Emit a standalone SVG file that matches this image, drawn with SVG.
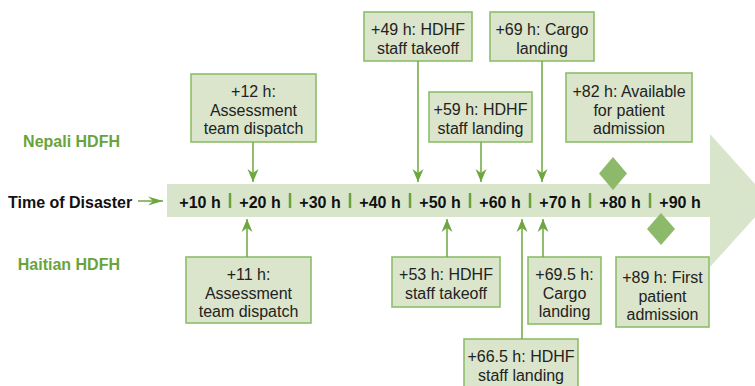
<svg xmlns="http://www.w3.org/2000/svg" width="755" height="386" viewBox="0 0 755 386">
<style>
.box{fill:#dae5cb;stroke:#8dbd69;stroke-width:1.6}
.bt{font-family:"Liberation Sans",Arial,sans-serif;font-size:16px;fill:#222;text-anchor:middle}
.lab{font-family:"Liberation Sans",Arial,sans-serif;font-size:16px;font-weight:bold;fill:#111;text-anchor:middle}
.grp{font-family:"Liberation Sans",Arial,sans-serif;font-size:16px;font-weight:bold;fill:#6aa33c;text-anchor:end}
.con{stroke:#78ad4a;stroke-width:1.6;fill:none}
.sep{stroke:#6aa33c;stroke-width:2.5}
.dia{fill:#8db96a}
</style>
<defs>
<marker id="ah" markerUnits="userSpaceOnUse" markerWidth="16" markerHeight="14" viewBox="-14 -7 16 14" refX="0" refY="0" orient="auto">
<path d="M0,0 L-13,-5.5 L-9,0 L-13,5.5 Z" fill="#6ea63f"/>
</marker>
<marker id="ah2" markerUnits="userSpaceOnUse" markerWidth="18" markerHeight="12" viewBox="-16 -6 18 12" refX="0" refY="0" orient="auto">
<path d="M0,0 L-15,-4.5 L-10,0 L-15,4.5 Z" fill="#6ea63f"/>
</marker>
</defs>
<g id="timeline">
<polygon points="167,184 710,184 710,134 770,200.5 710,267 710,217 167,217" fill="#d9e5cb"/>
<g id="ticks">
<text class="lab" x="200" y="207.5">+10 h</text>
<text class="lab" x="260" y="207.5">+20 h</text>
<text class="lab" x="320" y="207.5">+30 h</text>
<text class="lab" x="380" y="207.5">+40 h</text>
<text class="lab" x="440" y="207.5">+50 h</text>
<text class="lab" x="500" y="207.5">+60 h</text>
<text class="lab" x="560" y="207.5">+70 h</text>
<text class="lab" x="620" y="207.5">+80 h</text>
<text class="lab" x="680" y="207.5">+90 h</text>
<line class="sep" x1="230" y1="193" x2="230" y2="208"/>
<line class="sep" x1="290" y1="193" x2="290" y2="208"/>
<line class="sep" x1="350" y1="193" x2="350" y2="208"/>
<line class="sep" x1="410" y1="193" x2="410" y2="208"/>
<line class="sep" x1="470" y1="193" x2="470" y2="208"/>
<line class="sep" x1="530" y1="193" x2="530" y2="208"/>
<line class="sep" x1="590" y1="193" x2="590" y2="208"/>
<line class="sep" x1="650" y1="193" x2="650" y2="208"/>
</g>
</g>
<g id="time-of-disaster">
<text class="lab" x="8" y="207.5" style="text-anchor:start">Time of Disaster</text>
</g>
<g id="nepali-label"><text class="grp" x="120" y="147">Nepali HDFH</text></g>
<g id="haitian-label"><text class="grp" x="120" y="270">Haitian HDFH</text></g>
<g id="diamond-nepali"><polygon class="dia" points="613,157 627,173.5 613,190 599,173.5"/></g>
<g id="diamond-haitian"><polygon class="dia" points="661,213 675,229 661,245 647,229"/></g>
<g id="n12">
<rect class="box" x="191" y="74" width="125" height="68"/>
<text class="bt" x="253.5" y="97">+12 h:</text>
<text class="bt" x="253.5" y="115.5">Assessment</text>
<text class="bt" x="253.5" y="134">team dispatch</text>
</g>
<g id="n49">
<rect class="box" x="364" y="12" width="108" height="49"/>
<text class="bt" x="418" y="35">+49 h: HDHF</text>
<text class="bt" x="418" y="54">staff takeoff</text>
</g>
<g id="n59">
<rect class="box" x="429" y="92" width="103" height="50"/>
<text class="bt" x="480.5" y="115">+59 h: HDHF</text>
<text class="bt" x="480.5" y="134">staff landing</text>
</g>
<g id="n69">
<rect class="box" x="490" y="12" width="104" height="49"/>
<text class="bt" x="542" y="35">+69 h: Cargo</text>
<text class="bt" x="542" y="54">landing</text>
</g>
<g id="n82">
<rect class="box" x="566" y="73" width="126" height="69"/>
<text class="bt" x="629" y="97">+82 h: Available</text>
<text class="bt" x="629" y="115.5">for patient</text>
<text class="bt" x="629" y="134">admission</text>
</g>
<g id="n11">
<rect class="box" x="186" y="257" width="125" height="66"/>
<text class="bt" x="248.5" y="280">+11 h:</text>
<text class="bt" x="248.5" y="298.5">Assessment</text>
<text class="bt" x="248.5" y="317">team dispatch</text>
</g>
<g id="n53">
<rect class="box" x="392" y="257" width="108" height="50"/>
<text class="bt" x="446" y="280">+53 h: HDHF</text>
<text class="bt" x="446" y="298.5">staff takeoff</text>
</g>
<g id="n695">
<rect class="box" x="528" y="257" width="73" height="67"/>
<text class="bt" x="564.5" y="280">+69.5 h:</text>
<text class="bt" x="564.5" y="298.5">Cargo</text>
<text class="bt" x="564.5" y="317">landing</text>
</g>
<g id="n665">
<rect class="box" x="464" y="339" width="114" height="52"/>
<text class="bt" x="521" y="362">+66.5 h: HDHF</text>
<text class="bt" x="521" y="380.5">staff landing</text>
</g>
<g id="n89">
<rect class="box" x="616" y="257" width="93" height="70"/>
<text class="bt" x="662.5" y="283">+89 h: First</text>
<text class="bt" x="662.5" y="301.5">patient</text>
<text class="bt" x="662.5" y="320">admission</text>
</g>
<g id="connectors">
<line class="con" x1="138" y1="201" x2="163" y2="201" marker-end="url(#ah2)"/>
<line class="con" x1="253" y1="142" x2="253" y2="182" marker-end="url(#ah)"/>
<line class="con" x1="418" y1="61" x2="418" y2="182" marker-end="url(#ah)"/>
<line class="con" x1="481" y1="142" x2="481" y2="182" marker-end="url(#ah)"/>
<line class="con" x1="542" y1="61" x2="542" y2="182" marker-end="url(#ah)"/>
<line class="con" x1="247" y1="257" x2="247" y2="219" marker-end="url(#ah)"/>
<line class="con" x1="447" y1="257" x2="447" y2="219" marker-end="url(#ah)"/>
<line class="con" x1="522" y1="339" x2="522" y2="219" marker-end="url(#ah)"/>
<line class="con" x1="543" y1="257" x2="543" y2="219" marker-end="url(#ah)"/>
</g>
</svg>
